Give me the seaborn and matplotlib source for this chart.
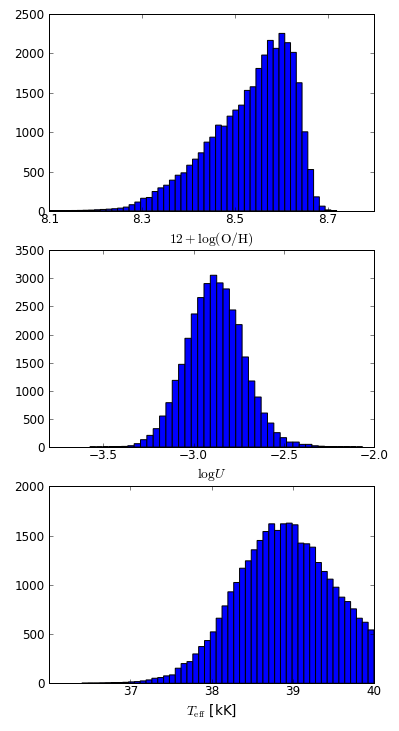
import numpy as np
import pandas as pd
import matplotlib
matplotlib.use("Agg")
import matplotlib.pyplot as plt
import seaborn as sns

# Bin counts (50-ish bins each)
oh_start, oh_width = 8.098, 0.01243
oh_counts = [2, 3, 3, 4, 5, 6, 8, 10, 14, 18, 22, 27, 35, 48, 78, 112, 160, 170,
             246, 292, 326, 390, 453, 483, 580, 657, 737, 873, 936, 1089, 1076,
             1203, 1280, 1343, 1530, 1576, 1809, 1979, 2165, 2064, 2254, 2136,
             2013, 1627, 1004, 525, 178, 60, 12, 4]

logu_start, logu_width = -3.576, 0.0352
logu_counts = [1, 1, 2, 3, 6, 12, 24, 60, 131, 208, 327, 552, 789, 1186, 1471,
               1934, 2367, 2658, 2907, 3055, 2919, 2812, 2438, 2177, 1602, 1175,
               890, 605, 427, 256, 167, 89, 89, 48, 48, 23, 15, 10, 7, 5, 3, 2, 1]

teff_start, teff_width = 36.4, 0.072
teff_counts = [1, 2, 2, 3, 4, 6, 7, 10, 14, 17, 24, 34, 51, 58, 75, 85, 153, 200,
               220, 298, 373, 434, 522, 661, 786, 929, 1024, 1169, 1244, 1356,
               1451, 1542, 1620, 1553, 1620, 1627, 1610, 1424, 1417, 1383, 1227,
               1136, 1058, 976, 875, 830, 756, 661, 620, 542]

# Axis settings
xlabels = [r'$12+\log({\rm O/H})$', r'${\rm log}U$', r'$T_{\rm eff}$ [kK]']
xlims = [(8.1, 8.8), (-3.8, -2.0), (36.0, 40.0)]
xticks = [[8.1, 8.3, 8.5, 8.7], [-3.5, -3.0, -2.5, -2.0], [37, 38, 39, 40]]
xticklabels = [['8.1', '8.3', '8.5', '8.7'],
               ['\u22123.5', '\u22123.0', '\u22122.5', '\u22122.0'],
               ['37', '38', '39', '40']]
ytops = [2500, 3500, 2000]

plt.rcParams.update({
    'font.family': 'DejaVu Sans',
    'font.size': 12,
    'mathtext.fontset': 'cm',
    'xtick.direction': 'in',
    'ytick.direction': 'in',
    'xtick.top': True,
    'ytick.right': True,
    'xtick.major.size': 4,
    'ytick.major.size': 4,
    'xtick.major.width': 0.5,
    'ytick.major.width': 0.5,
    'axes.linewidth': 1.0,
    'axes.edgecolor': 'black',
    'axes.unicode_minus': True,
})

fig, axes = plt.subplots(3, 1, figsize=(399 / 72, 731 / 72), dpi=72)
fig.subplots_adjust(left=0.1236, right=0.9373, top=0.9808, bottom=0.0653, hspace=0.2)

datasets = [(oh_start, oh_width, oh_counts),
            (logu_start, logu_width, logu_counts),
            (teff_start, teff_width, teff_counts)]

for i, (ax, (start, width, counts)) in enumerate(zip(axes, datasets)):
    edges = start + width * np.arange(len(counts) + 1)
    df = pd.DataFrame({'value': 0.5 * (edges[:-1] + edges[1:]),
                       'count': np.array(counts, dtype=float)})

    # Histogram from the read-off bin counts
    sns.histplot(data=df, x='value', weights='count', bins=edges.tolist(), ax=ax,
                 color='#0000ff', edgecolor='black', linewidth=1, alpha=1,
                 snap=False)

    # Setting up the axes
    ax.set_xlim(*xlims[i])
    ax.set_ylim(0, ytops[i])
    ax.set_xticks(xticks[i])
    ax.set_xticklabels(xticklabels[i])
    ax.set_yticks(np.arange(0, ytops[i] + 1, 500))
    ax.set_ylabel('')
    ax.set_xlabel(xlabels[i], fontsize=13.5, labelpad=4)
    ax.tick_params(axis='x', pad=2)
    ax.tick_params(axis='y', pad=5)
    for sp in ax.spines.values():
        sp.set_visible(True)

fig.savefig('out.png', dpi=72, facecolor='white')
